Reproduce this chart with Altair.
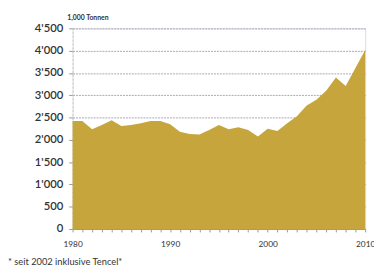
import altair as alt
import pandas as pd

years = list(range(1980, 2011))
values = [2420, 2420, 2240, 2330, 2440, 2310, 2330, 2370, 2420, 2420,
          2350, 2180, 2130, 2120, 2220, 2330, 2240, 2280, 2220, 2075,
          2250, 2200, 2370, 2530, 2770, 2900, 3100, 3400, 3210, 3610, 4015]
y_ticks = [0, 500, 1000, 1500, 2000, 2500, 3000, 3500, 4000, 4500]

df = pd.DataFrame({"Jahr": years, "Wert": values})

FONT = "Lato"

chart = alt.Chart(df).mark_area(color="#c6a63c", opacity=1).encode(
    x=alt.X("Jahr:Q",
            scale=alt.Scale(domain=[1980, 2010], nice=False, zero=False),
            axis=alt.Axis(values=years, labelExpr="datum.value % 10 == 0 ? datum.value : ''",
                          title=None, grid=False, tickSize=3, tickColor="#999999",
                          domainColor="#999999", labelFontSize=8.5, labelColor="#333333",
                          labelFont=FONT, labelPadding=8, labelFlush=False)),
    y=alt.Y("Wert:Q",
            scale=alt.Scale(domain=[0, 4500], nice=False),
            axis=alt.Axis(values=y_ticks,
                          labelExpr="replace(format(datum.value, ','), ',', \"'\")",
                          title="1,000 Tonnen", titleAngle=0, titleX=-6, titleY=-8,
                          titleAlign="left", titleBaseline="bottom", titleFontSize=7,
                          titleFont=FONT, titleFontWeight="bold", titleColor="#333333",
                          grid=True, gridColor="#a9a6b8", gridDash=[2, 1], gridWidth=1,
                          domain=True, domainColor="#c8c8c8", domainDash=[2, 2],
                          ticks=True, tickSize=4, tickColor="#999999",
                          labelFontSize=11.5, labelFont=FONT, labelFontWeight=600,
                          labelColor="#333333", labelPadding=6)),
).properties(
    width=299, height=205,
    autosize=alt.AutoSizeParams(type="none"),
    padding={"left": 66, "top": 18, "right": 9, "bottom": 35},
    title=alt.TitleParams("* seit 2002 inklusive Tencel*", orient="bottom", anchor="start",
                          frame="group", dx=-66, offset=9, fontSize=9.5, font=FONT,
                          fontWeight="normal", color="#333333"),
).configure_view(stroke=None).configure(background="white")

chart.save("out.html", embed_options={"renderer": "svg", "actions": False})
